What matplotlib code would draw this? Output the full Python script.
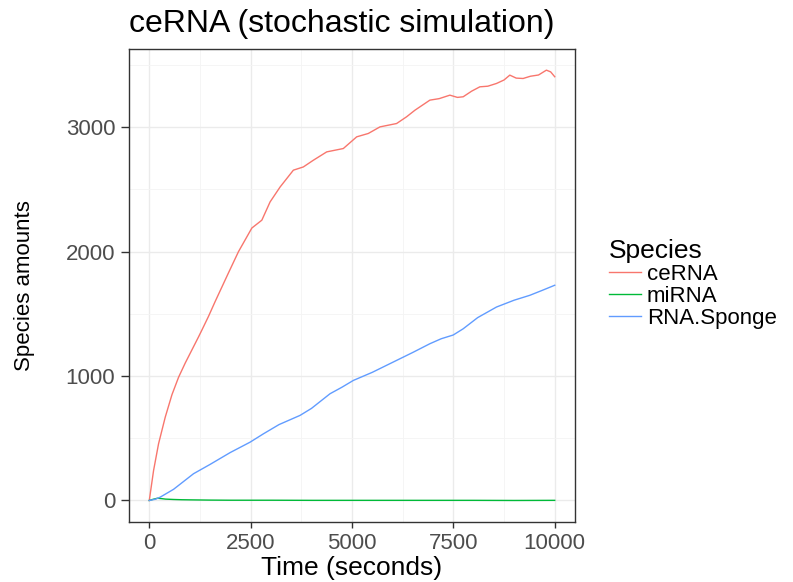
import matplotlib
matplotlib.use("Agg")
import matplotlib.pyplot as plt
from matplotlib.ticker import MultipleLocator

plt.rcParams['font.family'] = ['Liberation Sans', 'DejaVu Sans']

# values (time in seconds)
t_cerna = [0, 106, 229, 394, 559, 722, 887, 1051, 1215, 1298, 1461, 1626, 1954,
           2200, 2530, 2776, 2980, 3227, 3554, 3800, 4047, 4376, 4786, 5116, 5402,
           5690, 6100, 6346, 6552, 6921, 7150, 7414, 7600, 7742, 7950, 8153, 8350,
           8564, 8750, 8892, 9050, 9220, 9400, 9600, 9795, 9900, 10000]
v_cerna = [0, 241, 456, 670, 850, 990, 1105, 1210, 1315, 1370, 1480, 1600, 1830,
           2000, 2190, 2253, 2400, 2520, 2655, 2681, 2735, 2802, 2829, 2923, 2950,
           3003, 3030, 3084, 3137, 3218, 3230, 3258, 3240, 3245, 3290, 3325, 3330,
           3352, 3380, 3419, 3395, 3392, 3410, 3420, 3459, 3445, 3406]

t_sponge = [0, 150, 271, 600, 1091, 1500, 1995, 2488, 2816, 3200, 3719, 4000,
            4458, 4750, 5033, 5500, 6100, 6500, 6921, 7200, 7496, 7742, 8100,
            8564, 9000, 9384, 9700, 10000]
v_sponge = [0, 10, 27, 90, 215, 290, 385, 469, 536, 610, 684, 740, 858, 910,
            965, 1030, 1126, 1190, 1260, 1300, 1330, 1380, 1470, 1555, 1610,
            1649, 1690, 1730]

t_mirna = [0, 100, 200, 300, 400, 600, 800, 1000, 1500, 2000, 3000, 4000, 5000,
           6000, 7000, 8000, 9000, 10000]
v_mirna = [0, 10, 18, 15, 11, 8, 6, 5, 3, 2, 2, 1, 1, 1, 1, 1, 0, 1]

species = ['ceRNA', 'miRNA', 'RNA.Sponge']
colors = ['#F8766D', '#00BA38', '#619CFF']

fig = plt.figure(figsize=(7.93, 5.82), dpi=100)
ax = fig.add_axes([129 / 793, 60 / 582, 446 / 793, 473 / 582])

ax.plot(t_cerna, v_cerna, color=colors[0], lw=1.0, label=species[0])
ax.plot(t_mirna, v_mirna, color=colors[1], lw=1.0, label=species[1])
ax.plot(t_sponge, v_sponge, color=colors[2], lw=1.0, label=species[2])

ax.set_xlim(-500, 10500)
ax.set_ylim(-173, 3629)
ax.set_xticks([0, 2500, 5000, 7500, 10000])
ax.set_yticks([0, 1000, 2000, 3000])
ax.xaxis.set_minor_locator(MultipleLocator(1250))
ax.yaxis.set_minor_locator(MultipleLocator(500))
ax.grid(which='major', color='#EBEBEB', lw=1.0)
ax.grid(which='minor', color='#F4F4F4', lw=0.6)
ax.set_axisbelow(True)
ax.tick_params(which='minor', length=0)
ax.tick_params(which='major', width=1, color='#333333',
               labelsize=16, labelcolor='#4D4D4D')
ax.tick_params(axis='x', length=4, pad=4)
ax.tick_params(axis='y', length=6, pad=4)
for s in ax.spines.values():
    s.set_color('#333333')
    s.set_linewidth(1.0)

ax.set_xlabel('Time (seconds)', fontsize=19, labelpad=1)
ax.set_ylabel('Species amounts', fontsize=16, va='center')
ax.yaxis.set_label_coords(-104 / 446, 0.5)
ax.set_title('ceRNA (stochastic simulation)', fontsize=23, loc='left', pad=12)

leg = fig.legend(loc='upper left', bbox_to_anchor=(600 / 793, 1 - 230 / 582),
                 title='Species', fontsize=16, title_fontsize=19, frameon=False,
                 handlelength=1.45, handletextpad=0.25, labelspacing=0.05,
                 alignment='left', borderaxespad=0)

fig.savefig('out.png', dpi=100)
